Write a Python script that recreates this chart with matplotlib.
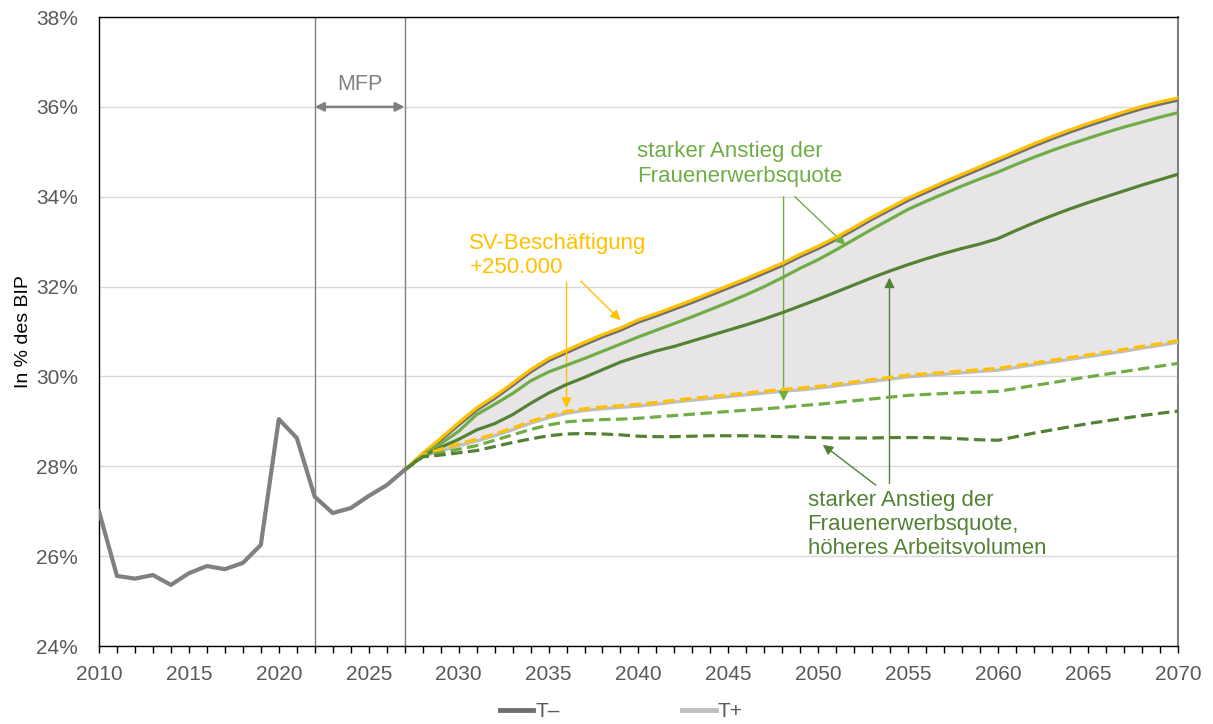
import matplotlib.pyplot as plt
from matplotlib.ticker import MultipleLocator, FuncFormatter

plt.rcParams['font.family'] = ['Liberation Sans', 'DejaVu Sans']

# historical values
hist_years = list(range(2010, 2028))
hist = [27.0, 25.56, 25.5, 25.58, 25.36, 25.62, 25.78, 25.71, 25.85, 26.25,
        29.05, 28.63, 27.32, 26.96, 27.07, 27.34, 27.58, 27.92]

# projections 2027-2070
proj_years = list(range(2027, 2071))
t_minus = [27.92, 28.26, 28.58, 28.92, 29.25, 29.51, 29.80, 30.10, 30.35, 30.53,
           30.71, 30.88, 31.03, 31.21, 31.35, 31.50, 31.65, 31.81, 31.97, 32.13,
           32.30, 32.47, 32.67, 32.85, 33.05, 33.27, 33.50, 33.71, 33.92, 34.10,
           34.28, 34.45, 34.62, 34.79, 34.96, 35.13, 35.29, 35.44, 35.58, 35.71,
           35.84, 35.96, 36.06, 36.15]
sv_minus = [27.92, 28.29, 28.62, 28.97, 29.30, 29.56, 29.85, 30.15, 30.40, 30.58,
            30.76, 30.93, 31.08, 31.26, 31.40, 31.55, 31.70, 31.86, 32.02, 32.18,
            32.35, 32.52, 32.72, 32.90, 33.10, 33.32, 33.55, 33.76, 33.97, 34.15,
            34.33, 34.50, 34.67, 34.84, 35.01, 35.18, 35.34, 35.49, 35.63, 35.76,
            35.89, 36.01, 36.11, 36.20]
fq_minus = [27.92, 28.25, 28.50, 28.78, 29.15, 29.38, 29.62, 29.90, 30.10, 30.25,
            30.40, 30.56, 30.72, 30.88, 31.03, 31.18, 31.33, 31.49, 31.65, 31.82,
            32.00, 32.20, 32.41, 32.60, 32.82, 33.05, 33.28, 33.50, 33.72, 33.90,
            34.07, 34.24, 34.40, 34.55, 34.72, 34.88, 35.03, 35.17, 35.30, 35.43,
            35.55, 35.66, 35.77, 35.87]
av_minus = [27.92, 28.22, 28.42, 28.60, 28.81, 28.95, 29.15, 29.40, 29.63, 29.82,
            29.98, 30.15, 30.32, 30.45, 30.57, 30.67, 30.79, 30.91, 31.03, 31.15,
            31.28, 31.42, 31.57, 31.72, 31.88, 32.04, 32.20, 32.35, 32.49, 32.62,
            32.74, 32.85, 32.95, 33.07, 33.25, 33.42, 33.58, 33.73, 33.87, 34.00,
            34.13, 34.26, 34.38, 34.50]
t_plus = [27.92, 28.22, 28.34, 28.46, 28.56, 28.68, 28.81, 28.96, 29.08, 29.18,
          29.24, 29.28, 29.31, 29.34, 29.38, 29.43, 29.47, 29.51, 29.55, 29.59,
          29.63, 29.67, 29.70, 29.74, 29.79, 29.84, 29.89, 29.94, 29.99, 30.02,
          30.05, 30.08, 30.11, 30.14, 30.20, 30.26, 30.32, 30.38, 30.44, 30.50,
          30.56, 30.63, 30.69, 30.76]
sv_plus = [27.92, 28.25, 28.38, 28.50, 28.60, 28.72, 28.85, 29.00, 29.12, 29.22,
           29.28, 29.32, 29.35, 29.38, 29.42, 29.47, 29.51, 29.55, 29.59, 29.63,
           29.67, 29.71, 29.74, 29.78, 29.83, 29.88, 29.93, 29.98, 30.03, 30.06,
           30.09, 30.12, 30.15, 30.18, 30.24, 30.30, 30.36, 30.42, 30.48, 30.54,
           30.60, 30.67, 30.73, 30.80]
fq_plus = [27.92, 28.22, 28.30, 28.38, 28.46, 28.58, 28.70, 28.82, 28.92, 28.99,
           29.02, 29.04, 29.05, 29.07, 29.10, 29.13, 29.16, 29.19, 29.22, 29.25,
           29.28, 29.31, 29.35, 29.38, 29.42, 29.46, 29.50, 29.54, 29.58, 29.60,
           29.62, 29.64, 29.65, 29.67, 29.73, 29.80, 29.86, 29.93, 29.99, 30.05,
           30.11, 30.17, 30.23, 30.29]
av_plus = [27.92, 28.21, 28.25, 28.30, 28.35, 28.44, 28.53, 28.61, 28.68, 28.72,
           28.73, 28.72, 28.70, 28.67, 28.66, 28.66, 28.67, 28.68, 28.68, 28.68,
           28.67, 28.66, 28.65, 28.64, 28.63, 28.63, 28.63, 28.64, 28.64, 28.64,
           28.63, 28.61, 28.59, 28.58, 28.66, 28.74, 28.81, 28.88, 28.95, 29.01,
           29.07, 29.13, 29.18, 29.23]

YELLOW = '#FFC000'
LGREEN = '#70AD47'
DGREEN = '#548235'
GRAY = '#808080'
DGRAY = '#6f6f6f'
LGRAY = '#bfbfbf'
TXT = '#595959'
DASH = (0, (3.6, 1.7))

fig = plt.figure(figsize=(12.13, 7.24), dpi=100)
ax = fig.add_axes([0.0816, 0.1077, 0.8895, 0.8688])

ax.fill_between(proj_years, t_plus, t_minus, color='#e7e5e6', lw=0, zorder=1)
ax.plot(hist_years, hist, color=GRAY, lw=3, zorder=5)
ax.plot(proj_years, t_minus, color=DGRAY, lw=2.3, zorder=3, label='T\u2013')
ax.plot(proj_years, t_plus, color=LGRAY, lw=2.3, zorder=3, label='T+')
ax.plot(proj_years, sv_minus, color=YELLOW, lw=2.3, zorder=4)
ax.plot(proj_years, fq_minus, color=LGREEN, lw=2.3, zorder=4)
ax.plot(proj_years, av_minus, color=DGREEN, lw=2.3, zorder=4)
ax.plot(proj_years, sv_plus, color=YELLOW, lw=2.3, ls=DASH, zorder=4)
ax.plot(proj_years, fq_plus, color=LGREEN, lw=2.3, ls=DASH, zorder=4)
ax.plot(proj_years, av_plus, color=DGREEN, lw=2.3, ls=DASH, zorder=4)

ax.axvline(2022, color=GRAY, lw=1, zorder=2)
ax.axvline(2027, color=GRAY, lw=1, zorder=2)
ax.annotate('', xy=(2022, 36), xytext=(2027, 36),
            arrowprops=dict(arrowstyle='<|-|>', color=GRAY, lw=1.8,
                            mutation_scale=13, shrinkA=0, shrinkB=0))
ax.text(2024.5, 36.5, 'MFP', color=GRAY, fontsize=15.5, ha='center', va='center')


def arrow(x0, y0, x1, y1, color):
    ax.annotate('', xy=(x1, y1), xytext=(x0, y0),
                arrowprops=dict(arrowstyle='-|>', color=color, lw=1, mutation_scale=15,
                                shrinkA=0, shrinkB=0))


# annotations
ax.text(2030.6, 32.7, 'SV-Besch\u00e4ftigung\n+250.000', color=YELLOW, fontsize=16,
        ha='left', va='center', linespacing=1.2)
arrow(2036.0, 32.1, 2036.0, 29.3, YELLOW)
arrow(2036.8, 32.12, 2039.0, 31.25, YELLOW)

ax.text(2039.9, 34.73, 'starker Anstieg der\nFrauenerwerbsquote', color=LGREEN, fontsize=16,
        ha='left', va='center', linespacing=1.2)
arrow(2048.07, 34.0, 2048.07, 29.45, LGREEN)
arrow(2048.7, 34.0, 2051.5, 32.93, LGREEN)

ax.text(2049.4, 26.7, 'starker Anstieg der\nFrauenerwerbsquote,\nh\u00f6heres Arbeitsvolumen',
        color=DGREEN, fontsize=16, ha='left', va='center', linespacing=1.2)
arrow(2053.96, 27.62, 2053.96, 32.2, DGREEN)
arrow(2053.2, 27.58, 2050.25, 28.48, DGREEN)

ax.set_xlim(2010, 2070)
ax.set_ylim(24, 38)
ax.xaxis.set_major_locator(MultipleLocator(5))
ax.xaxis.set_minor_locator(MultipleLocator(1))
ax.yaxis.set_major_locator(MultipleLocator(2))
ax.yaxis.set_major_formatter(FuncFormatter(lambda v, p: f'{v:.0f}%'))
ax.tick_params(axis='x', which='both', direction='out', length=5, width=1,
               colors='black', labelcolor=TXT, labelsize=15, pad=9)
ax.tick_params(axis='y', length=0, labelcolor=TXT, labelsize=15, pad=15)
ax.grid(axis='y', color='#d9d9d9', lw=1, zorder=0)
ax.set_axisbelow(True)
ax.set_ylabel('In % des BIP', fontsize=14, color='black', labelpad=3)

for s in ['left', 'bottom', 'top']:
    ax.spines[s].set_color('black')
    ax.spines[s].set_linewidth(1)
ax.spines['right'].set_color(GRAY)
ax.spines['right'].set_linewidth(1.5)

leg = ax.legend(loc='center', bbox_to_anchor=(0.484, -0.104), ncol=2, frameon=False,
                fontsize=15, handlelength=1.6, handletextpad=0.1, columnspacing=5.9,
                labelcolor=TXT, borderpad=0)
for line in leg.get_lines():
    line.set_linewidth(3.5)

fig.savefig('out.png', dpi=100)
